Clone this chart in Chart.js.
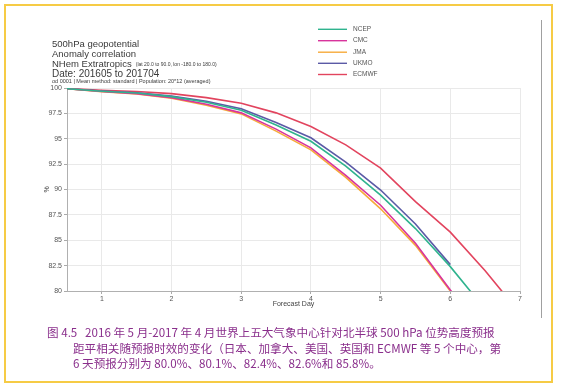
<!DOCTYPE html>
<html>
<head>
<meta charset="utf-8">
<script src="https://cdn.jsdelivr.net/npm/chart.js@4.4.1/dist/chart.umd.min.js"></script>
<style>
  html, body { margin: 0; padding: 0; background: #fff; }
  #wrap { position: relative; width: 563px; height: 389px; overflow: hidden; }
  #frame { position: absolute; left: 4px; top: 4px; width: 545px; height: 375px; border: 2px solid #f6cb45; }
  #edge { position: absolute; left: 541px; top: 20px; width: 1px; height: 298px; background: #a0a0a0; }
  canvas { position: absolute; left: 0; top: 0; }
  #cap { position: absolute; left: 47px; top: 325px; width: 480px; font-family: "Noto Sans CJK SC", sans-serif;
         font-size: 11.6px; line-height: 15.5px; color: #8a2f8c; }
  #cap div { white-space: nowrap; }
</style>
</head>
<body>
<div id="wrap">
  <div id="frame"></div>
  <div id="edge"></div>
  <canvas id="c" width="563" height="389"></canvas>
  <div id="cap">
    <div>图 4.5&nbsp;&nbsp;&nbsp;2016 年 5 月-2017 年 4 月世界上五大气象中心针对北半球 500 hPa 位势高度预报</div>
    <div style="padding-left:26px">距平相关随预报时效的变化（日本、加拿大、美国、英国和 ECMWF 等 5 个中心，第</div>
    <div style="padding-left:26px">6 天预报分别为 80.0%、80.1%、82.4%、82.6%和 85.8%。</div>
  </div>
</div>
<script>
// ---- data ----
const days  = [0.5, 1, 1.5, 2, 2.5, 3, 3.5, 4, 4.5, 5, 5.5, 6, 6.5, 7];
const ncep  = [99.93, 99.68, 99.50, 99.15, 98.60, 97.80, 96.35, 94.75, 92.30, 89.45, 86.15, 82.40, 78.2, 74.0];
const cmc   = [99.92, 99.65, 99.45, 99.05, 98.40, 97.55, 95.95, 94.10, 91.40, 88.45, 84.70, 80.10, 75.9, 71.5];
const jma   = [99.92, 99.63, 99.42, 99.00, 98.30, 97.45, 95.75, 93.90, 91.20, 88.10, 84.50, 80.00, 75.6, 71.0];
const ukmo  = [99.93, 99.70, 99.52, 99.20, 98.70, 97.95, 96.60, 95.10, 92.70, 89.95, 86.60, 82.60, null, null];
const ecmwf = [99.95, 99.78, 99.65, 99.45, 99.05, 98.50, 97.55, 96.20, 94.40, 92.10, 88.80, 85.80, 82.0, 77.8];
const seriesNames  = ["NCEP", "CMC", "JMA", "UKMO", "ECMWF"];
const seriesColors = ["#2fb38e", "#d8349c", "#f6aa3a", "#5b5aa6", "#e2445e"];
const yTicks = [80, 82.5, 85, 87.5, 90, 92.5, 95, 97.5, 100];
const xTicks = [1, 2, 3, 4, 5, 6, 7];
const titleLines = ["500hPa geopotential", "Anomaly correlation", "NHem Extratropics", "Date: 201605 to 201704"];
const titleNote = "(lat 20.0 to 90.0, lon -180.0 to 180.0)";
const subNote = "od 0001 | Mean method: standard | Population: 20*12 (averaged)";

const allSeries = [ncep, cmc, jma, ukmo, ecmwf];
const datasets = allSeries.map((vals, i) => ({
  label: seriesNames[i],
  data: days.map((d, j) => ({ x: d, y: vals[j] })),
  borderColor: seriesColors[i],
  backgroundColor: seriesColors[i],
  borderWidth: 1.6,
  pointRadius: 0,
  tension: 0,
  spanGaps: false
}));

const FONT = "'Liberation Sans', Arial, sans-serif";

const headerPlugin = {
  id: 'header',
  afterDraw(chart) {
    const ctx = chart.ctx;
    ctx.save();
    ctx.fillStyle = '#3a3a3a';
    ctx.textBaseline = 'middle';
    ctx.textAlign = 'left';
    const x0 = 52;
    const ys = [44, 54, 64, 74.5];
    titleLines.forEach((t, i) => {
      ctx.font = (i === 3 ? '10px ' : '9.5px ') + FONT;
      ctx.fillText(t, x0, ys[i]);
      if (i === 2) {
        const w = ctx.measureText(t).width;
        ctx.font = '5px ' + FONT;
        ctx.fillText(titleNote, x0 + w + 4, ys[i] + 1);
      }
    });
    ctx.font = '5.5px ' + FONT;
    ctx.fillText(subNote, x0, 81.7);

    // legend
    const ly = [29.3, 40.7, 52.2, 63.3, 74.5];
    chart.data.datasets.forEach((ds, i) => {
      ctx.strokeStyle = ds.borderColor;
      ctx.lineWidth = 1.4;
      ctx.beginPath();
      ctx.moveTo(318, ly[i]);
      ctx.lineTo(347, ly[i]);
      ctx.stroke();
      ctx.fillStyle = '#555';
      ctx.font = '6.5px ' + FONT;
      ctx.fillText(ds.label, 353, ly[i]);
    });
    ctx.restore();
  }
};

new Chart(document.getElementById('c'), {
  type: 'line',
  data: { datasets },
  plugins: [headerPlugin],
  options: {
    responsive: false,
    animation: false,
    events: [],
    layout: { padding: { left: 43, right: 43, top: 88, bottom: 81 } },
    plugins: { legend: { display: false }, tooltip: { enabled: false }, title: { display: false } },
    scales: {
      x: {
        type: 'linear',
        min: 0.5, max: 7,
        afterBuildTicks(scale) { scale.ticks = xTicks.map(v => ({ value: v })); },
        afterFit(scale) { scale.height = 17; },
        grid: { color: '#e9e9e9', lineWidth: 1, tickLength: 3, tickColor: '#aaa' },
        border: { color: '#b0b0b0', width: 1 },
        ticks: { font: { family: FONT, size: 7 }, color: '#555', padding: 1, maxRotation: 0 },
        title: { display: true, text: 'Forecast Day', font: { family: FONT, size: 7 }, color: '#444', padding: 0 }
      },
      y: {
        type: 'linear',
        min: 80, max: 100,
        afterBuildTicks(scale) { scale.ticks = yTicks.map(v => ({ value: v })); },
        afterFit(scale) { scale.width = 24; },
        grid: { color: '#e9e9e9', lineWidth: 1, tickLength: 3, tickColor: '#aaa' },
        border: { color: '#b0b0b0', width: 1 },
        ticks: { font: { family: FONT, size: 7 }, color: '#555', padding: 2 },
        title: { display: true, text: '%', font: { family: FONT, size: 7 }, color: '#444', padding: 0 }
      }
    }
  }
});
</script>
</body>
</html>
